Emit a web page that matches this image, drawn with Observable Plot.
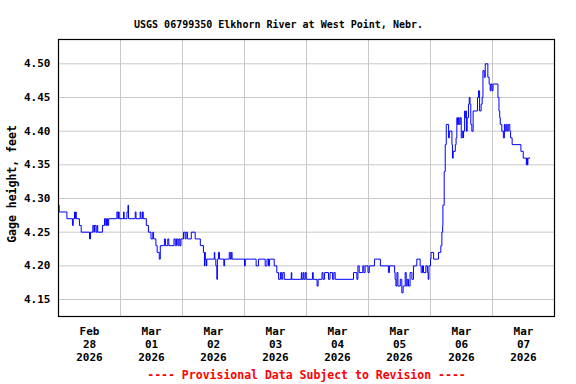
<!DOCTYPE html>
<html><head><meta charset="utf-8">
<script src="https://cdn.jsdelivr.net/npm/d3@7"></script>
<script src="https://cdn.jsdelivr.net/npm/@observablehq/plot@0.6"></script>
<style>body{margin:0;background:#fff}</style>
</head><body><div id="chart"></div>
<script>
const title = "USGS 06799350 Elkhorn River at West Point, Nebr.";
const yLabel = "Gage height, feet";
const footer = "---- Provisional Data Subject to Revision ----";

// hours since 2026-02-28 00:00
const hours = [
0,0.25,3.25,5.4,5.7,6.2,6.5,6.7,6.85,8.1,8.8,12.0,12.4,13.3,13.7,13.9,14.5,14.9,15.2,
17.0,17.8,18.3,18.6,19.0,19.4,22.6,23.0,23.2,23.5,25.2,25.4,26.5,26.9,27.1,29.7,30.0,
31.6,31.9,32.5,32.8,34.0,34.8,35.8,36.5,36.8,37.7,38.2,39.0,39.4,41.0,41.4,42.3,42.7,
44.7,45.2,45.7,46.2,46.6,47.0,47.4,48.4,49.0,49.4,49.9,51.4,52.9,54.9,56.1,56.5,56.7,
56.8,57.2,57.4,60.3,60.5,60.9,61.3,61.5,61.9,62.3,64.0,64.3,66.1,66.5,66.9,67.2,72.0,
72.3,76.5,77.4,80.0,80.7,81.3,81.7,83.5,84.5,85.2,85.9,86.4,86.8,87.4,90.1,90.3,94.0,
94.2,94.7,95.0,95.5,95.9,98.3,98.6,100.1,100.5,102.0,102.4,103.0,104.5,105.1,106.1,
106.6,107.1,114.2,115.5,115.9,116.4,117.8,118.2,118.7,119.8,120.3,122.3,124.6,127.7,
128.1,130.1,130.3,130.6,131.0,131.4,132.3,132.9,133.4,134.2,134.6,135.0,135.5,136.1,
136.8,137.4,138.7,140.0,140.4,140.9,141.3,142.2,142.8,143.1,143.4,144.0,144.2,145.2,
147.1,148.0,148.4,148.7,148.8,149.3,149.7,150.1,151.0,151.3,152.3,152.5,152.8,153.6,
153.9,154.2,154.4,154.8,155.1,155.5,155.9,156.3,156.7,156.8,157.2,157.4,157.7,157.9,
158.2,158.7,159.0,159.3,159.6,160.0,160.5,162.2,162.6,163.0,163.6,164.0,164.3,164.8,
165.2,166.2,166.7,167.1,167.4,167.8,168.2,170.1,170.5,170.8,171.0,171.6,172.2,172.6,
172.9,173.3,173.7,174.1,174.7,175.0,175.6,179.0,179.9,181.1,181.3,181.5,181.7,182.5
];
const gage = [
4.29,4.28,4.27,4.26,4.27,4.28,4.27,4.28,4.27,4.26,4.25,4.24,4.25,4.26,4.25,4.26,4.25,4.26,4.25,
4.26,4.27,4.26,4.27,4.26,4.27,4.28,4.27,4.28,4.27,4.28,4.27,4.28,4.29,4.27,4.28,4.27,
4.28,4.27,4.28,4.27,4.26,4.25,4.24,4.25,4.24,4.23,4.22,4.21,4.23,4.24,4.23,4.24,4.23,
4.24,4.23,4.24,4.23,4.24,4.23,4.24,4.25,4.24,4.25,4.24,4.25,4.24,4.23,4.22,4.20,4.22,
4.21,4.20,4.21,4.22,4.21,4.20,4.18,4.21,4.22,4.21,4.20,4.21,4.22,4.21,4.22,4.21,4.20,
4.21,4.20,4.21,4.20,4.21,4.20,4.21,4.20,4.19,4.18,4.19,4.18,4.19,4.18,4.19,4.18,4.19,
4.18,4.19,4.18,4.19,4.18,4.19,4.18,4.17,4.18,4.19,4.18,4.19,4.18,4.19,4.18,
4.19,4.18,4.19,4.18,4.20,4.19,4.20,4.19,4.20,4.19,4.20,4.21,4.20,4.19,
4.20,4.19,4.18,4.17,4.19,4.17,4.18,4.16,4.17,4.19,4.17,4.18,4.17,4.19,
4.18,4.20,4.21,4.20,4.19,4.20,4.19,4.20,4.19,4.18,4.20,4.21,4.22,4.21,
4.22,4.23,4.25,4.26,4.29,4.34,4.38,4.41,4.39,4.40,4.38,4.36,4.37,4.38,
4.39,4.42,4.41,4.42,4.41,4.42,4.39,4.40,4.39,4.40,4.43,4.42,4.43,4.40,
4.42,4.44,4.45,4.44,4.41,4.40,4.43,4.45,4.46,4.43,4.44,4.45,4.49,4.48,
4.50,4.48,4.47,4.46,4.47,4.46,4.47,4.45,4.43,4.42,4.41,4.40,4.39,4.41,
4.40,4.41,4.40,4.41,4.40,4.39,4.38,4.37,4.36,4.35,4.36,4.35,4.36,4.36
];
const yTicks = [4.15, 4.20, 4.25, 4.30, 4.35, 4.40, 4.45, 4.50];
const yDomain = [4.1248, 4.5361];
const nDays = 8;

const start = Date.UTC(2026, 1, 28);
const HOUR = 3600e3;
const data = hours.map((h, i) => ({t: new Date(start + h * HOUR), v: gage[i]}));
const labelDates = d3.range(0, 8).map(i => new Date(start + (i * 24 + 12) * HOUR));
const gridDates = d3.range(1, 8).map(i => new Date(start + i * 24 * HOUR));
const fmt = d3.utcFormat("%b\n%d\n%Y");
const font = "DejaVu Sans Mono";

const chart = Plot.plot({
  width: 576, height: 384,
  marginLeft: 58, marginRight: 22, marginTop: 39, marginBottom: 68,
  style: {fontFamily: font, fontWeight: "bold", fontSize: "11px", background: "#fff", color: "#000"},
  x: {type: "utc", domain: [new Date(start), new Date(start + nDays * 24 * HOUR)]},
  y: {domain: yDomain},
  marks: [
    Plot.gridX(gridDates, {stroke: "#c8c8c8", strokeOpacity: 1}),
    Plot.gridY(yTicks, {stroke: "#c8c8c8", strokeOpacity: 1}),
    Plot.axisY(yTicks, {tickSize: 0, tickPadding: 8, tickFormat: d => d.toFixed(2), label: null, fontSize: 11}),
    Plot.axisX(labelDates, {tickSize: 0, tickPadding: 9, tickFormat: fmt, label: null, lineHeight: 1.18, fontSize: 11}),
    Plot.line(data, {x: "t", y: "v", curve: "step-after", stroke: "#0000ff", strokeWidth: 1}),
    Plot.frame({stroke: "#000", strokeWidth: 1.2}),
    Plot.text([title], {text: d => d, frameAnchor: "top", dx: -28, dy: -19, fontSize: 10, fill: "#000"}),
    Plot.text([yLabel], {text: d => d, frameAnchor: "left", textAnchor: "middle", dx: -46, dy: 6, rotate: -90, fontSize: 11.5, fill: "#000"}),
    Plot.text([footer], {text: d => d, frameAnchor: "bottom", dx: 0, dy: 62, fontSize: 11.5, fill: "#ff0000"})
  ]
});
document.getElementById("chart").append(chart);
</script>
</body></html>
